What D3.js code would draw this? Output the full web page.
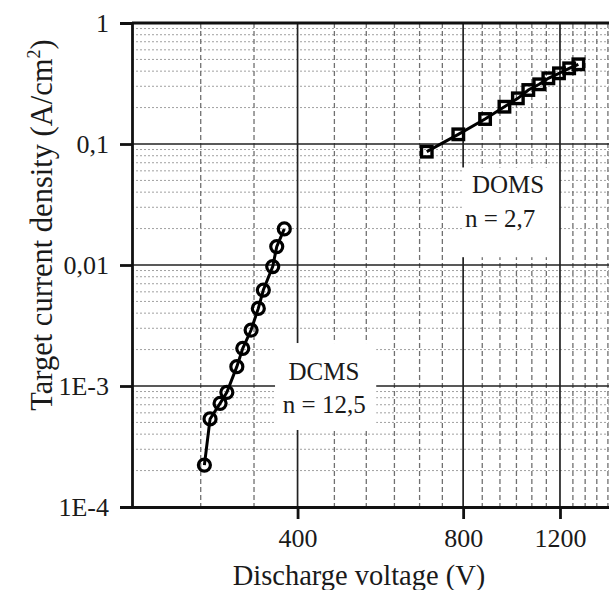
<!DOCTYPE html>
<html>
<head>
<meta charset="utf-8">
<script src="https://cdn.jsdelivr.net/npm/d3@7"></script>
<style>
html, body { margin: 0; padding: 0; background: #fff; }
svg { display: block; }
text { font-family: "Liberation Serif", "Times New Roman", serif; fill: #1a1a1a; }
</style>
</head>
<body>
<svg id="chart" width="609" height="590"></svg>
<script>
// ---- data ----
const dcmsVoltage = [270.8, 277.3, 289.2, 297.5, 310.2, 318.0, 329.3, 339.4, 346.6, 360.5, 366.6, 378.4];
const dcmsCurrent = [0.000222, 0.000534, 0.000719, 0.000887, 0.001445, 0.00205, 0.00290, 0.00438, 0.00621, 0.00970, 0.01419, 0.01986];
const domsVoltage = [687, 784, 877, 951, 1006, 1051, 1100, 1143, 1195, 1247, 1296];
const domsCurrent = [0.0864, 0.1202, 0.1609, 0.2033, 0.2385, 0.2794, 0.3114, 0.3491, 0.3839, 0.4222, 0.4556];
const xTickValues = [400, 800, 1200];
const xTickLabels = ["400", "800", "1200"];
const yTickValues = [1e-4, 1e-3, 0.01, 0.1, 1];
const yTickLabels = ["1E-4", "1E-3", "0,01", "0,1", "1"];
const xMinorStep = 400 / 6;
const xDomain = [200, 1600];
const yDomain = [1e-4, 1];
const xTitle = "Discharge voltage (V)";
const annotations = [
  { lines: ["DCMS", "n = 12,5"] },
  { lines: ["DOMS", "n = 2,7"] }
];

// ---- layout ----
const svg = d3.select("#chart");
const pLeft = 132, pTop = 23, pBottom = 507;
const decadePx = 550;
const pRight = pLeft + decadePx * Math.log10(xDomain[1] / xDomain[0]);

const x = d3.scaleLog().domain(xDomain).range([pLeft, pRight]);
const y = d3.scaleLog().domain(yDomain).range([pBottom, pTop]);

// minor grid values
const xMinor = d3.range(xDomain[0] + xMinorStep, xDomain[1] - 1, xMinorStep)
  .filter(v => !xTickValues.some(t => Math.abs(t - v) < 1));
const yMinor = [];
for (let e = -4; e < 0; e++) for (let m = 2; m <= 9; m++) yMinor.push(m * Math.pow(10, e));

const grid = svg.append("g");
grid.selectAll("line.ymin").data(yMinor).join("line")
  .attr("x1", pLeft).attr("x2", pRight)
  .attr("y1", d => y(d)).attr("y2", d => y(d))
  .attr("stroke", "#a0a0a0").attr("stroke-width", 1).attr("stroke-dasharray", "2,2");
grid.selectAll("line.xmin").data(xMinor).join("line")
  .attr("x1", d => x(d)).attr("x2", d => x(d))
  .attr("y1", pTop).attr("y2", pBottom)
  .attr("stroke", "#707070").attr("stroke-width", 1.3).attr("stroke-dasharray", "5,3");
grid.selectAll("line.ymaj").data(yTickValues.slice(1, -1)).join("line")
  .attr("x1", pLeft).attr("x2", pRight)
  .attr("y1", d => y(d)).attr("y2", d => y(d))
  .attr("stroke", "#222").attr("stroke-width", 1.7);
grid.selectAll("line.xmaj").data(xTickValues).join("line")
  .attr("x1", d => x(d)).attr("x2", d => x(d))
  .attr("y1", pTop).attr("y2", pBottom)
  .attr("stroke", "#222").attr("stroke-width", 1.7);

// annotation boxes (white background hiding the grid), in data coordinates
const boxes = [
  { v0: 364, v1: 556, j0: 0.002265, j1: 0.000433, tv: [385, 376], tj: [0.001122, 0.000602] },
  { v0: 796, v1: 1190, j0: 0.064, j1: 0.0116, tv: [830, 806], tj: [0.0391, 0.0207] }
];
boxes.forEach((b, i) => {
  svg.append("rect").attr("x", x(b.v0)).attr("y", y(b.j0))
    .attr("width", x(b.v1) - x(b.v0)).attr("height", y(b.j1) - y(b.j0)).attr("fill", "#fff");
  annotations[i].lines.forEach((t, j) => {
    svg.append("text").attr("x", x(b.tv[j])).attr("y", y(b.tj[j]))
      .attr("font-size", 25).text(t);
  });
});

// frame
svg.append("line").attr("x1", pLeft).attr("x2", pRight).attr("y1", pTop).attr("y2", pTop)
  .attr("stroke", "#111").attr("stroke-width", 2.8);
svg.append("line").attr("x1", pRight).attr("x2", pRight).attr("y1", pTop).attr("y2", pBottom)
  .attr("stroke", "#111").attr("stroke-width", 2.8);

// axes
const yAxis = d3.axisLeft(y).tickValues(yTickValues)
  .tickFormat((d, i) => yTickLabels[i]).tickSize(12).tickPadding(11);
const gy = svg.append("g").attr("transform", `translate(${pLeft},0)`).call(yAxis);
gy.select(".domain").attr("stroke", "#111").attr("stroke-width", 2.8);
gy.selectAll(".tick line").attr("stroke", "#111").attr("stroke-width", 2.8);
gy.selectAll(".tick text").attr("font-size", 26).attr("fill", "#1a1a1a")
  .style("font-family", "'Liberation Serif', 'Times New Roman', serif");

const xAxis = d3.axisBottom(x).tickValues(xTickValues)
  .tickFormat((d, i) => xTickLabels[i]).tickSize(12).tickPadding(10).tickSizeOuter(0);
const gx = svg.append("g").attr("transform", `translate(0,${pBottom})`).call(xAxis);
gx.select(".domain").attr("stroke", "#111").attr("stroke-width", 2.8);
gx.selectAll(".tick line").attr("stroke", "#111").attr("stroke-width", 2.8);
gx.selectAll(".tick text").attr("font-size", 26).attr("fill", "#1a1a1a")
  .style("font-family", "'Liberation Serif', 'Times New Roman', serif");

// titles
svg.append("text").attr("x", 359).attr("y", 585).attr("text-anchor", "middle")
  .attr("font-size", 28.5).text(xTitle);
const yt = svg.append("text").attr("transform", "translate(52,225) rotate(-90)")
  .attr("text-anchor", "middle").attr("font-size", 30.5);
yt.append("tspan").text("Target current density (A/cm");
yt.append("tspan").attr("font-size", 18).attr("dy", -12).text("2");
yt.append("tspan").attr("dy", 12).text(")");

// data
const dcms = dcmsVoltage.map((v, i) => [v, dcmsCurrent[i]]);
const doms = domsVoltage.map((v, i) => [v, domsCurrent[i]]);
const line = d3.line().x(d => x(d[0])).y(d => y(d[1]));

svg.append("path").datum(dcms).attr("d", line).attr("fill", "none")
  .attr("stroke", "#000").attr("stroke-width", 3);
svg.append("path").datum(doms).attr("d", line).attr("fill", "none")
  .attr("stroke", "#000").attr("stroke-width", 3);

svg.selectAll("circle.dcms").data(dcms).join("circle")
  .attr("cx", d => x(d[0])).attr("cy", d => y(d[1])).attr("r", 6)
  .attr("fill", "none").attr("stroke", "#000").attr("stroke-width", 3.2);
const s = 10.5;
svg.selectAll("rect.doms").data(doms).join("rect")
  .attr("x", d => x(d[0]) - s / 2).attr("y", d => y(d[1]) - s / 2)
  .attr("width", s).attr("height", s)
  .attr("fill", "none").attr("stroke", "#000").attr("stroke-width", 3.4);
</script>
</body>
</html>
